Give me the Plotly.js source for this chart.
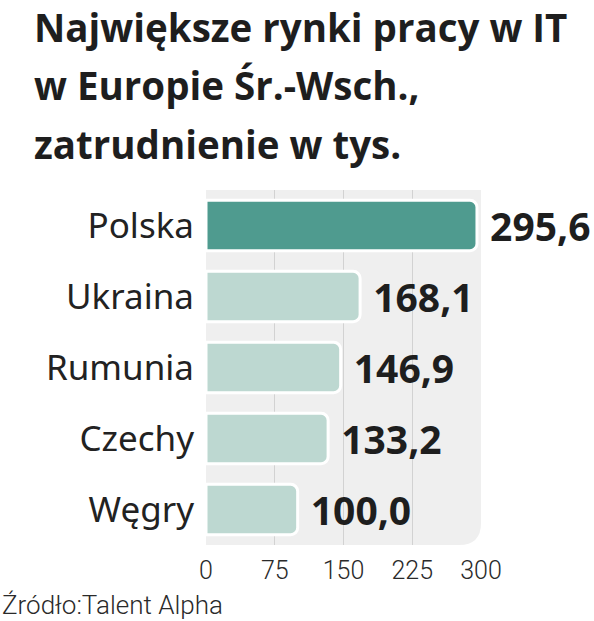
<!DOCTYPE html>
<html><head><meta charset="utf-8">
<script src="https://cdn.plot.ly/plotly-3.0.1.min.js"></script>
<style>html,body{margin:0;padding:0;background:#fff}#chart{width:594px;height:621px}</style>
</head><body><div id="chart"></div>
<script>
const countries = ["Polska", "Ukraina", "Rumunia", "Czechy", "Węgry"];
const employment = [295.6, 168.1, 146.9, 133.2, 100.0];
const barColors = ["#4f9b8f", "#bdd8d1", "#bdd8d1", "#bdd8d1", "#bdd8d1"];
const xTicks = [0, 75, 150, 225, 300];
const titleLines = ["Największe rynki pracy w IT", "w Europie Śr.-Wsch.,", "zatrudnienie w tys."];
const sourceText = "Źródło:Talent Alpha";

const boldFont = "'Open Sans', sans-serif";

const trace = {
  type: "bar",
  orientation: "h",
  y: countries,
  x: employment,
  marker: {color: barColors, line: {color: "#ffffff", width: 3}, cornerradius: 7},
  texttemplate: " %{x:.1f}",
  textposition: "outside",
  constraintext: "none",
  cliponaxis: false,
  textfont: {family: boldFont, size: 39, weight: 700, color: "#1e1e1e"},
  hoverinfo: "skip"
};

const rx = 22 / 275, ry = 22 / 355;
const bgPath = `M 0 1 L 1 1 L 1 ${ry} Q 1 0 ${1 - rx} 0 L 0 0 Z`;

// title line vertical centres, in pixels from the top of the page
const titleCentres = [27, 85, 144];
const titleAnnotations = titleLines.map((t, i) => ({
  text: t, xref: "paper", yref: "paper",
  x: -174 / 275, y: 1 + (190 - titleCentres[i]) / 355,
  xanchor: "left", yanchor: "middle", align: "left",
  showarrow: false,
  font: {family: boldFont, size: 38.5, weight: 700, color: "#1e1e1e"}
}));

const layout = {
  width: 594, height: 621,
  margin: {l: 206, r: 113, t: 190, b: 76},
  paper_bgcolor: "#ffffff",
  plot_bgcolor: "rgba(0,0,0,0)",
  separators: ", ",
  bargap: 0.29,
  showlegend: false,
  xaxis: {
    range: [0, 300],
    tickvals: xTicks,
    ticktext: xTicks.map(String),
    showgrid: true, gridcolor: "#d2d2d2", gridwidth: 1,
    zeroline: false, showline: false,
    ticks: "", ticklabelstandoff: 8,
    tickfont: {family: "Roboto, 'Noto Sans', sans-serif", size: 25, weight: 300, color: "#2a2a2a"},
    fixedrange: true
  },
  yaxis: {
    autorange: "reversed",
    type: "category",
    showgrid: false, zeroline: false, showline: false,
    ticks: "", ticklabelstandoff: 11,
    tickfont: {family: "'Noto Sans', sans-serif", size: 35, color: "#222222"},
    fixedrange: true
  },
  shapes: [{
    type: "path", xref: "paper", yref: "paper", path: bgPath,
    fillcolor: "#efefef", line: {width: 0}, layer: "below"
  }],
  annotations: titleAnnotations.concat([{
    text: sourceText, xref: "paper", yref: "paper",
    x: -206 / 275, y: -60 / 355, xanchor: "left", yanchor: "middle",
    showarrow: false,
    font: {family: "Roboto, 'Noto Sans', sans-serif", size: 26, weight: 300, color: "#2a2a2a"}
  }])
};

Plotly.newPlot("chart", [trace], layout, {displayModeBar: false, staticPlot: true});
</script></body></html>
